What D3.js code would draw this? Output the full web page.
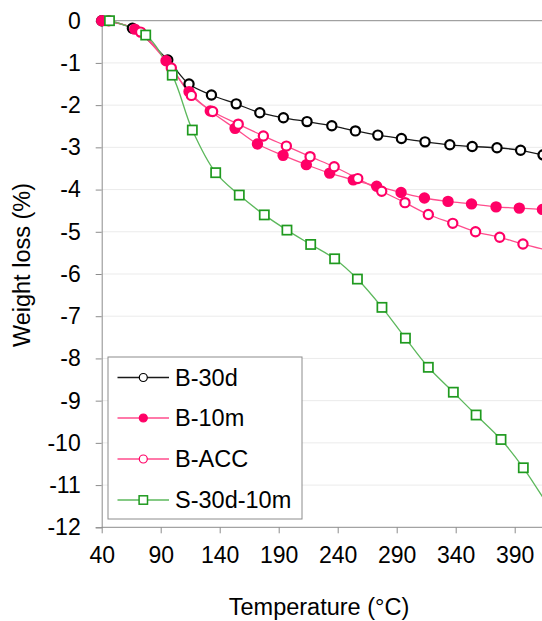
<!DOCTYPE html>
<html>
<head>
<meta charset="utf-8">
<script src="https://cdn.jsdelivr.net/npm/d3@7"></script>
<style>
  html, body { margin: 0; padding: 0; background: #fff; }
  svg { display: block; font-family: "Liberation Sans", Arial, sans-serif; }
</style>
</head>
<body>
<svg id="chart" width="542" height="621"></svg>
<script>
// ---- Data ----
const xTicks = [40, 90, 140, 190, 240, 290, 340, 390];
const yTicks = [0, -1, -2, -3, -4, -5, -6, -7, -8, -9, -10, -11, -12];

const b30dT = [40, 66, 96, 114, 133, 154, 174, 194, 214, 235, 255, 274, 294, 314, 335, 354, 375, 395, 414];
const b30dW = [0, -0.18, -0.93, -1.50, -1.76, -1.97, -2.18, -2.30, -2.39, -2.49, -2.61, -2.71, -2.79, -2.87, -2.94, -2.98, -3.01, -3.07, -3.18];

const b10mT = [40, 68, 94.5, 114, 132, 153, 172, 193.7, 213.4, 233.2, 253.2, 273, 293.7, 313.5, 333.5, 353.4, 374.2, 393.9, 413.5];
const b10mW = [0, -0.20, -0.95, -1.68, -2.14, -2.55, -2.92, -3.19, -3.41, -3.61, -3.77, -3.92, -4.07, -4.20, -4.28, -4.34, -4.41, -4.44, -4.47];

const baccT = [46, 73, 99, 116, 134, 155.7, 177, 196.5, 216.6, 237, 257, 277.3, 297, 316.8, 337.5, 356.8, 377.3, 397, 418.5];
const baccW = [0, -0.27, -1.12, -1.77, -2.15, -2.45, -2.73, -2.97, -3.22, -3.46, -3.74, -4.04, -4.31, -4.59, -4.80, -5.00, -5.13, -5.29, -5.44];

const s3010T = [46.6, 77.3, 99.8, 116.8, 136.6, 156.6, 177.8, 197, 217.1, 237.4, 256.7, 277.5, 297.4, 316.8, 338, 357.3, 378.4, 397.3, 418.5];
const s3010W = [0, -0.34, -1.29, -2.59, -3.60, -4.13, -4.60, -4.96, -5.30, -5.64, -6.12, -6.79, -7.52, -8.21, -8.80, -9.34, -9.92, -10.59, -11.50];

const seriesNames = ["B-30d", "B-10m", "B-ACC", "S-30d-10m"];

const series = [
  { name: seriesNames[0], T: b30dT, W: b30dW, line: "#1a1a1a", stroke: "#000000", fill: "#ffffff", shape: "circle" },
  { name: seriesNames[1], T: b10mT, W: b10mW, line: "#ff4d8d", stroke: "#ff0066", fill: "#ff0066", shape: "circle" },
  { name: seriesNames[2], T: baccT, W: baccW, line: "#ff4d8d", stroke: "#ff0066", fill: "#ffffff", shape: "circle" },
  { name: seriesNames[3], T: s3010T, W: s3010W, line: "#5cb85c", stroke: "#1f9a1f", fill: "#ffffff", shape: "square" }
];

// ---- Layout ----
const svg = d3.select("#chart");
const x = d3.scaleLinear().domain([40, 415]).range([101.7, 101.7 + 375 * 1.18]);
const y = d3.scaleLinear().domain([0, -12]).range([20.7, 527.3]);
const plotRight = 542;

// gridlines
svg.append("g").selectAll("line").data(yTicks.filter(v => v !== 0 && v !== -12)).join("line")
  .attr("x1", x(40)).attr("x2", plotRight)
  .attr("y1", d => y(d)).attr("y2", d => y(d))
  .attr("stroke", "#ebebeb").attr("stroke-width", 1);

// top line at 0
svg.append("line").attr("x1", x(40)).attr("x2", plotRight)
  .attr("y1", y(0)).attr("y2", y(0)).attr("stroke", "#8c8c8c").attr("stroke-width", 1);

// Y axis
const yAxis = d3.axisLeft(y).tickValues(yTicks).tickSize(6).tickPadding(15).tickFormat(d3.format("d"));
const gy = svg.append("g").attr("transform", `translate(${x(40)},0)`).call(yAxis);
gy.select(".domain").attr("stroke", "#8c8c8c");
gy.selectAll(".tick line").attr("stroke", "#8c8c8c");
gy.selectAll(".tick text").attr("font-size", 23).attr("fill", "#000")
  .attr("font-family", "Liberation Sans, Arial, sans-serif")
  .text(d => d === 0 ? "0" : "-" + Math.abs(d));

// X axis at bottom (y=-12)
const xAxis = d3.axisBottom(x).tickValues(xTicks).tickSize(6).tickPadding(13).tickSizeOuter(0);
const gx = svg.append("g").attr("transform", `translate(0,${y(-12)})`).call(xAxis);
gx.select(".domain").attr("stroke", "#8c8c8c").attr("d", `M${x(40)},0H${plotRight}`);
gx.selectAll(".tick line").attr("stroke", "#8c8c8c");
gx.selectAll(".tick text").attr("font-size", 23).attr("fill", "#000")
  .attr("font-family", "Liberation Sans, Arial, sans-serif");

// Axis titles
svg.append("text").attr("x", 319).attr("y", 615).attr("text-anchor", "middle")
  .attr("font-size", 23.5).attr("fill", "#000").text("Temperature (°C)");
svg.append("text").attr("transform", `translate(30,265) rotate(-90)`).attr("text-anchor", "middle")
  .attr("font-size", 23.5).attr("fill", "#000").text("Weight loss (%)");

// ---- Series ----
const line = d3.line().x(d => x(d[0])).y(d => y(d[1])).curve(d3.curveCatmullRom.alpha(0.5));
const plot = svg.append("g");

function drawMarker(g, s, cx, cy, r, sw) {
  if (s.shape === "circle") {
    g.append("circle").attr("cx", cx).attr("cy", cy).attr("r", r)
      .attr("fill", s.fill).attr("stroke", s.stroke).attr("stroke-width", sw);
  } else {
    g.append("rect").attr("x", cx - r).attr("y", cy - r).attr("width", 2 * r).attr("height", 2 * r)
      .attr("fill", s.fill).attr("stroke", s.stroke).attr("stroke-width", sw);
  }
}

series.forEach(s => {
  const pts = s.T.map((t, i) => [t, s.W[i]]);
  plot.append("path").attr("d", line(pts)).attr("fill", "none")
    .attr("stroke", s.line).attr("stroke-width", 1.3);
});
series.forEach(s => {
  const g = plot.append("g");
  s.T.forEach((t, i) => {
    if (s.shape === "circle") drawMarker(g, s, x(t), y(s.W[i]), 4.6, 2.2);
    else drawMarker(g, s, x(t), y(s.W[i]), 4.6, 1.7);
  });
});

// ---- Legend ----
const lg = svg.append("g");
lg.append("rect").attr("x", 108).attr("y", 357).attr("width", 194).attr("height", 162)
  .attr("fill", "#fff").attr("stroke", "#8c8c8c").attr("stroke-width", 1);
const rows = [377.5, 418, 459, 500];
series.forEach((s, i) => {
  const ry = rows[i];
  lg.append("line").attr("x1", 117.5).attr("x2", 169).attr("y1", ry).attr("y2", ry)
    .attr("stroke", s.line).attr("stroke-width", 1.3);
  drawMarker(lg, s, 143.3, ry, s.shape === "circle" ? 4 : 4.2, s.shape === "circle" ? 1.2 : 1.5);
  lg.append("text").attr("x", 175).attr("y", ry + 8).attr("font-size", 23.5).attr("fill", "#000").text(s.name);
});
</script>
</body>
</html>
